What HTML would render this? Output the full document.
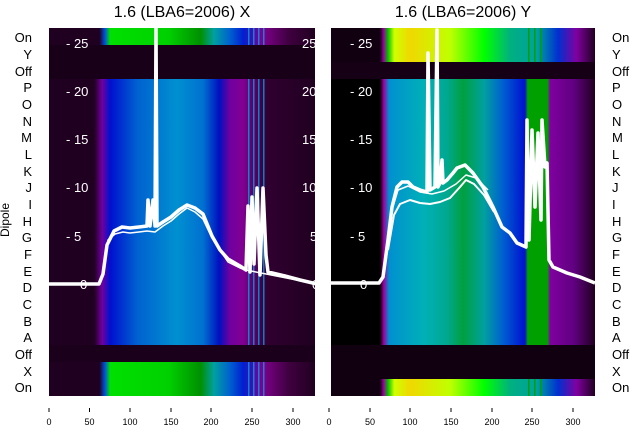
<!DOCTYPE html>
<html><head><meta charset="utf-8"><style>
body{margin:0;background:#fff;width:640px;height:440px;overflow:hidden}
svg{display:block;font-family:"Liberation Sans","DejaVu Sans",sans-serif}
</style></head><body>
<svg width="640" height="440" viewBox="0 0 640 440">
<defs>
<linearGradient id="lb" x1="0" x2="1">
<stop offset="0" stop-color="#200020"/><stop offset="0.17" stop-color="#200020"/><stop offset="0.2" stop-color="#7000a0"/><stop offset="0.23" stop-color="#0010d0"/><stop offset="0.33" stop-color="#0060d0"/><stop offset="0.48" stop-color="#0090d0"/><stop offset="0.58" stop-color="#0070d0"/><stop offset="0.64" stop-color="#0010c0"/><stop offset="0.68" stop-color="#7000a0"/><stop offset="0.73" stop-color="#800090"/><stop offset="0.82" stop-color="#300030"/><stop offset="1" stop-color="#200020"/></linearGradient>
<linearGradient id="lg" x1="0" x2="1">
<stop offset="0" stop-color="#200020"/><stop offset="0.19" stop-color="#200020"/><stop offset="0.21" stop-color="#0050e0"/><stop offset="0.23" stop-color="#00e000"/><stop offset="0.45" stop-color="#00d000"/><stop offset="0.57" stop-color="#009000"/><stop offset="0.62" stop-color="#00a0a0"/><stop offset="0.68" stop-color="#0060d0"/><stop offset="0.73" stop-color="#0020d0"/><stop offset="0.8" stop-color="#800090"/><stop offset="0.9" stop-color="#400040"/><stop offset="1" stop-color="#200020"/></linearGradient>
<linearGradient id="rb" x1="0" x2="1">
<stop offset="0" stop-color="#000"/><stop offset="0.186" stop-color="#000"/><stop offset="0.2" stop-color="#a000a0"/><stop offset="0.22" stop-color="#0090d0"/><stop offset="0.35" stop-color="#00b0b8"/><stop offset="0.44" stop-color="#00a890"/><stop offset="0.5" stop-color="#00a040"/><stop offset="0.58" stop-color="#00a0a0"/><stop offset="0.65" stop-color="#0060d0"/><stop offset="0.735" stop-color="#0010d0"/><stop offset="0.745" stop-color="#00a000"/><stop offset="0.82" stop-color="#00a000"/><stop offset="0.83" stop-color="#8000a0"/><stop offset="0.92" stop-color="#600080"/><stop offset="1" stop-color="#200020"/></linearGradient>
<linearGradient id="ry" x1="0" x2="1">
<stop offset="0" stop-color="#100010"/><stop offset="0.186" stop-color="#100010"/><stop offset="0.2" stop-color="#a000a0"/><stop offset="0.215" stop-color="#00c000"/><stop offset="0.24" stop-color="#d0ff00"/><stop offset="0.3" stop-color="#f0d800"/><stop offset="0.45" stop-color="#c0ff00"/><stop offset="0.58" stop-color="#00ff00"/><stop offset="0.68" stop-color="#00b080"/><stop offset="0.78" stop-color="#00a0a0"/><stop offset="0.86" stop-color="#0030d0"/><stop offset="0.93" stop-color="#8000a0"/><stop offset="1" stop-color="#200020"/></linearGradient>
</defs>
<!-- left panel -->
<rect x="49" y="28" width="266" height="17.5" fill="url(#lg)"/>
<rect x="49" y="79" width="266" height="266" fill="url(#lb)"/>
<rect x="49" y="362" width="266" height="34" fill="url(#lg)"/>
<g fill="#00a0e0" opacity="0.8"><rect x="248" y="28" width="1.5" height="368"/><rect x="253" y="28" width="1.5" height="368"/><rect x="258" y="28" width="1.5" height="368"/><rect x="263" y="28" width="1.5" height="368"/></g>
<rect x="49" y="45" width="266" height="34" fill="#180018"/>
<rect x="49" y="345" width="266" height="17" fill="#1a001a"/>
<!-- right panel -->
<rect x="331" y="28" width="264" height="34" fill="url(#ry)"/>
<rect x="331" y="79" width="264" height="266" fill="url(#rb)"/>
<rect x="331" y="379" width="264" height="17" fill="url(#ry)"/>
<g fill="#00a000"><rect x="528" y="28" width="1.5" height="34"/><rect x="534" y="28" width="1.5" height="34"/><rect x="540" y="28" width="1.5" height="34"/><rect x="528" y="379" width="1.5" height="17"/><rect x="534" y="379" width="1.5" height="17"/><rect x="540" y="379" width="1.5" height="17"/></g>
<rect x="331" y="62" width="264" height="17" fill="#150015"/>
<rect x="331" y="345" width="264" height="34" fill="#100010"/>
<!-- tick labels in panels -->
<g fill="#fff" font-size="13">
<text x="66" y="48">- 25</text><text x="66" y="96">- 20</text><text x="66" y="144">- 15</text><text x="66" y="192">- 10</text><text x="66" y="241">- 5</text><text x="80" y="289">0</text>
<text x="302" y="48">25</text><text x="302" y="96">20</text><text x="302" y="144">15</text><text x="302" y="192">10</text><text x="310" y="241">5</text><text x="312" y="289">0</text>
<text x="350" y="48">- 25</text><text x="350" y="96">- 20</text><text x="350" y="144">- 15</text><text x="350" y="192">- 10</text><text x="350" y="241">- 5</text><text x="360" y="289">0</text>
</g>
<!-- lines -->
<g fill="none" stroke="#fff" stroke-width="3.5" stroke-linejoin="round">
<polyline points="49,284 99,284 103,274 107,245 114,231 122,227 130,228 139,227 147,226 148,200 150,226 153,200 155,226 156,28 157,226 163,222 171,217 179,210 187,205 195,208 203,214 212,236 220,250 228,259 240,266 246,270 248,206 250,272 252,197 254,264 257,188 260,275 263,188 266,255 268,272 285,276 300,280 317,284"/>
<polyline points="49,284 99,284 104,270 108,240 115,234 123,232 130,233 139,232 147,231 155,232 163,226 171,221 179,214 187,208 195,212 203,219 212,238 228,262 240,268 246,270 317,284" stroke-width="1.5"/>
<polyline points="328,283 379,283 383,277 388,240 392,207 397,187 402,182 408,182 413,187 420,190 427,192 428,53 430,190 435,187 437,30 438,187 440,183 442,160 443,183 447,180 453,173 457,168 465,165 473,173 483,187 493,207 502,227 510,233 517,243 526,247 527,120 529,240 532,130 535,207 538,133 541,220 542,120 545,167 547,163 549,260 553,267 567,273 580,277 595,283"/>
<polyline points="388,250 394,215 400,204 410,200 420,203 430,204 440,202 450,198 460,187 466,180 474,184 484,195 494,212" stroke-width="2"/>
<polyline points="392,210 398,190 408,186 420,192 432,194 444,191 456,184 466,175 476,178 488,190" stroke-width="1.5"/>
</g>
<!-- titles -->
<g fill="#000">
<text x="182" y="17" font-size="16" text-anchor="middle">1.6 (LBA6=2006) X</text>
<text x="463" y="17" font-size="16" text-anchor="middle">1.6 (LBA6=2006) Y</text>
<text x="9" y="220" font-size="12" text-anchor="middle" transform="rotate(-90 9 220)">Dipole</text>
</g>
<g font-size="13" fill="#000">
<g text-anchor="end">
<text x="32" y="42">On</text><text x="32" y="59">Y</text><text x="32" y="76">Off</text><text x="32" y="92">P</text><text x="32" y="109">O</text><text x="32" y="126">N</text><text x="32" y="142">M</text><text x="32" y="159">L</text><text x="32" y="176">K</text><text x="32" y="192">J</text><text x="32" y="209">I</text><text x="32" y="226">H</text><text x="32" y="242">G</text><text x="32" y="259">F</text><text x="32" y="276">E</text><text x="32" y="292">D</text><text x="32" y="309">C</text><text x="32" y="326">B</text><text x="32" y="342">A</text><text x="32" y="359">Off</text><text x="32" y="376">X</text><text x="32" y="392">On</text>
</g>
<g>
<text x="612" y="42">On</text><text x="612" y="59">Y</text><text x="612" y="76">Off</text><text x="612" y="92">P</text><text x="612" y="109">O</text><text x="612" y="126">N</text><text x="612" y="142">M</text><text x="612" y="159">L</text><text x="612" y="176">K</text><text x="612" y="192">J</text><text x="612" y="209">I</text><text x="612" y="226">H</text><text x="612" y="242">G</text><text x="612" y="259">F</text><text x="612" y="276">E</text><text x="612" y="292">D</text><text x="612" y="309">C</text><text x="612" y="326">B</text><text x="612" y="342">A</text><text x="612" y="359">Off</text><text x="612" y="376">X</text><text x="612" y="392">On</text>
</g>
</g>
<!-- bottom ticks -->
<g stroke="#000" stroke-width="1">
<line x1="49" y1="408" x2="49" y2="412"/><line x1="89.5" y1="408" x2="89.5" y2="412"/><line x1="130" y1="408" x2="130" y2="412"/><line x1="171" y1="408" x2="171" y2="412"/><line x1="211" y1="408" x2="211" y2="412"/><line x1="252" y1="408" x2="252" y2="412"/><line x1="293" y1="408" x2="293" y2="412"/>
<line x1="329" y1="408" x2="329" y2="412"/><line x1="370" y1="408" x2="370" y2="412"/><line x1="410" y1="408" x2="410" y2="412"/><line x1="451" y1="408" x2="451" y2="412"/><line x1="492" y1="408" x2="492" y2="412"/><line x1="532" y1="408" x2="532" y2="412"/><line x1="573" y1="408" x2="573" y2="412"/>
</g>
<g font-size="9" fill="#000" text-anchor="middle">
<text x="49" y="425">0</text><text x="89.5" y="425">50</text><text x="130" y="425">100</text><text x="171" y="425">150</text><text x="211" y="425">200</text><text x="252" y="425">250</text><text x="293" y="425">300</text>
<text x="329" y="425">0</text><text x="370" y="425">50</text><text x="410" y="425">100</text><text x="451" y="425">150</text><text x="492" y="425">200</text><text x="532" y="425">250</text><text x="573" y="425">300</text>
</g>
</svg>
</body></html>
